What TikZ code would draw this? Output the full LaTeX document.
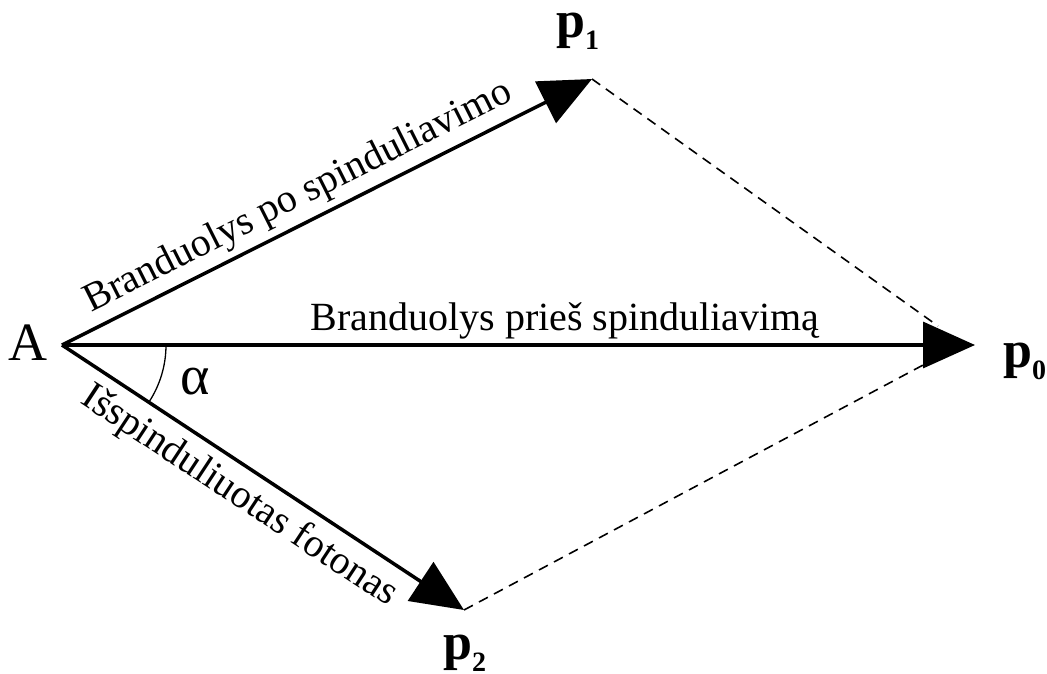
\documentclass[tikz,border=0pt]{standalone}
\usepackage{fontspec}
\setmainfont{Liberation Serif}
\usetikzlibrary{arrows.meta,calc,positioning}

\newcommand{\pvec}[1]{\textbf{p}\raisebox{-12pt}{\fontsize{28}{28}\selectfont\textbf{#1}}}

\begin{document}
\begin{tikzpicture}[x=1pt,y=-1pt,
	vec/.style={line width=3.5pt,-{Triangle[length=52pt,width=46pt]}},
	comp/.style={line width=1.6pt,dash pattern=on 10pt off 7pt},
	lbl/.style={font=\fontsize{40}{44}\selectfont,inner sep=0pt},
	plbl/.style={font=\fontsize{52}{56}\selectfont,inner sep=0pt,anchor=base west}]
	\useasboundingbox (0,0) rectangle (1047,673);
	
	% taskai
	\coordinate (A) at (62,345);
	\coordinate (P0) at (975,345);
	\coordinate (P1) at (592,79);
	\coordinate (P2) at (464,610);
	\coordinate (Q1) at (938,326);
	\coordinate (Q2) at (925,364);
	
	% vektoriai
	\draw[vec] (A)--(P0) node[lbl,pos=0.551,above=4pt] (tMid) {Branduolys prieš spinduliavimą};
	\draw[vec] (A)--(P1) node[lbl,pos=0.468,sloped,above=6pt] (tUp) {Branduolys po spinduliavimo};
	\draw[vec] (A)--(P2) node[lbl,pos=0.48,sloped,below=9pt] (tLow) {Išspinduliuotas fotonas};
	
	% lygiagretainio kraštinės
	\draw[comp] (P1)--(Q1);
	\draw[comp] (P2)--(Q2);
	
	% kampas
	\draw[line width=1.3pt] ($(A)+(104,0)$) arc[start angle=0,end angle=33.46,radius=104];
	\node[font=\fontsize{56}{60}\selectfont,inner sep=0pt] (alpha) at (195,382) {α};
	
	% žymės
	\node[font=\fontsize{54}{58}\selectfont,inner sep=0pt] (lA) at (28,343) {A};
	\node[plbl] (lP1) at (556,37) {\pvec{1}};
	\node[plbl] (lP0) at (1003,367) {\pvec{0}};
	\node[plbl] (lP2) at (443,659) {\pvec{2}};
\end{tikzpicture}
\end{document}
